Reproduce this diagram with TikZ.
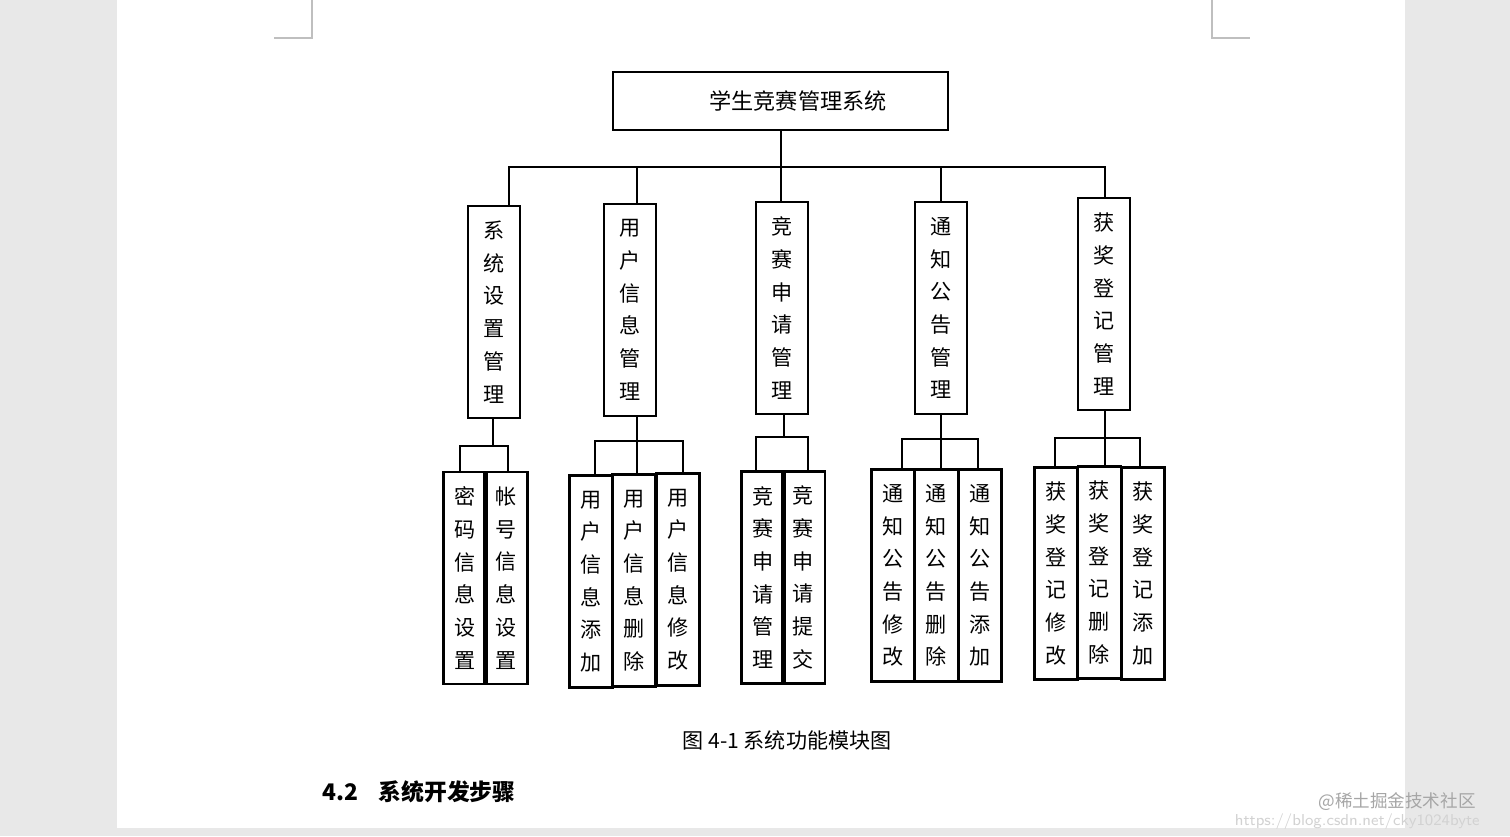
\documentclass[tikz,border=0pt]{standalone}
\usepackage{fontspec}
\newfontfamily\cjk{Noto Sans CJK SC}
\begin{document}
\begin{tikzpicture}[y={(0,-1cm)},
  box/.style={draw,line width=0.7pt,inner sep=0pt,font=\cjk\fontsize{6}{9.3}\selectfont,align=center},
  lv2/.style={box,minimum width=0.52cm,minimum height=2.12cm},
  lv3/.style={box,minimum width=0.43cm,minimum height=2.12cm},
  ln/.style={line width=0.7pt}]
\useasboundingbox (0,0) rectangle (15.10,8.36);
\fill[gray!18] (0,0) rectangle (15.10,8.36);
\fill[white] (1.17,0) rectangle (14.05,8.28);
\draw[gray!50,line width=0.4pt] (3.12,0) -- (3.12,0.38) -- (2.74,0.38);
\draw[gray!50,line width=0.4pt] (12.12,0) -- (12.12,0.38) -- (12.50,0.38);
\node[draw,line width=0.7pt,minimum width=3.35cm,minimum height=0.58cm,font=\cjk\fontsize{6.3}{7}\selectfont] (top) at (7.805,1.01) {\hspace{0.35cm}学生竞赛管理系统};
\node[lv2] (b1) at (4.94,3.12) {系\\统\\设\\置\\管\\理};
\node[lv2] (b2) at (6.30,3.10) {用\\户\\信\\息\\管\\理};
\node[lv2] (b3) at (7.82,3.08) {竞\\赛\\申\\请\\管\\理};
\node[lv2] (b4) at (9.41,3.08) {通\\知\\公\\告\\管\\理};
\node[lv2] (b5) at (11.04,3.04) {获\\奖\\登\\记\\管\\理};
\coordinate (j) at (7.81,1.67);
\draw[ln] (top.south -| j) -- (j);
\draw[ln] (5.09,2.06) -- (5.09,1.67) -- (11.05,1.67) -- (11.05,1.98);
\foreach \x/\y in {6.37/2.04,7.81/2.02,9.41/2.02} \draw[ln] (\x,1.67) -- (\x,\y);
\node[lv3] (c11) at (4.65,5.78) {密\\码\\信\\息\\设\\置};
\node[lv3] (c12) at (5.06,5.78) {帐\\号\\信\\息\\设\\置};
\node[lv3] (c21) at (5.91,5.815) {用\\户\\信\\息\\添\\加};
\node[lv3] (c22) at (6.34,5.805) {用\\户\\信\\息\\删\\除};
\node[lv3] (c23) at (6.78,5.795) {用\\户\\信\\息\\修\\改};
\node[lv3] (c31) at (7.63,5.775) {竞\\赛\\申\\请\\管\\理};
\node[lv3] (c32) at (8.035,5.775) {竞\\赛\\申\\请\\提\\交};
\node[lv3] (c41) at (8.93,5.755) {通\\知\\公\\告\\修\\改};
\node[lv3] (c42) at (9.365,5.755) {通\\知\\公\\告\\删\\除};
\node[lv3] (c43) at (9.80,5.755) {通\\知\\公\\告\\添\\加};
\node[lv3] (c51) at (10.56,5.735) {获\\奖\\登\\记\\修\\改};
\node[lv3] (c52) at (10.995,5.725) {获\\奖\\登\\记\\删\\除};
\node[lv3] (c53) at (11.43,5.735) {获\\奖\\登\\记\\添\\加};
% group connectors
\draw[ln] (4.93,4.18) -- (4.93,4.46);
\draw[ln] (4.60,4.72) -- (4.60,4.46) -- (5.08,4.46) -- (5.08,4.72);
\draw[ln] (6.37,4.16) -- (6.37,4.41);
\draw[ln] (5.95,4.75) -- (5.95,4.41) -- (6.83,4.41) -- (6.83,4.73);
\draw[ln] (6.37,4.41) -- (6.37,4.75);
\draw[ln] (7.84,4.14) -- (7.84,4.37);
\draw[ln] (7.56,4.71) -- (7.56,4.37) -- (8.08,4.37) -- (8.08,4.71);
\draw[ln] (9.41,4.14) -- (9.41,4.69);
\draw[ln] (9.02,4.69) -- (9.02,4.39) -- (9.78,4.39) -- (9.78,4.69);
\draw[ln] (11.05,4.10) -- (11.05,4.67);
\draw[ln] (10.55,4.67) -- (10.55,4.38) -- (11.40,4.38) -- (11.40,4.67);
\node[font=\cjk\fontsize{6}{7}\selectfont] (cap) at (7.87,7.40) {图 4-1 系统功能模块图};
\node[anchor=west,font=\cjk\bfseries\fontsize{6.5}{7}\selectfont] (h) at (3.10,7.92) {4.2\hspace{0.15cm} 系统开发步骤};
\node[anchor=east,text=gray!70,font=\cjk\fontsize{5}{6}\selectfont] (wm) at (14.88,8.02) {@稀土掘金技术社区};
\node[anchor=east,text=gray!35,font=\sffamily\fontsize{4.5}{5}\selectfont] (url) at (14.92,8.22) {https://blog.csdn.net/cky1024byte};
\end{tikzpicture}
\end{document}
